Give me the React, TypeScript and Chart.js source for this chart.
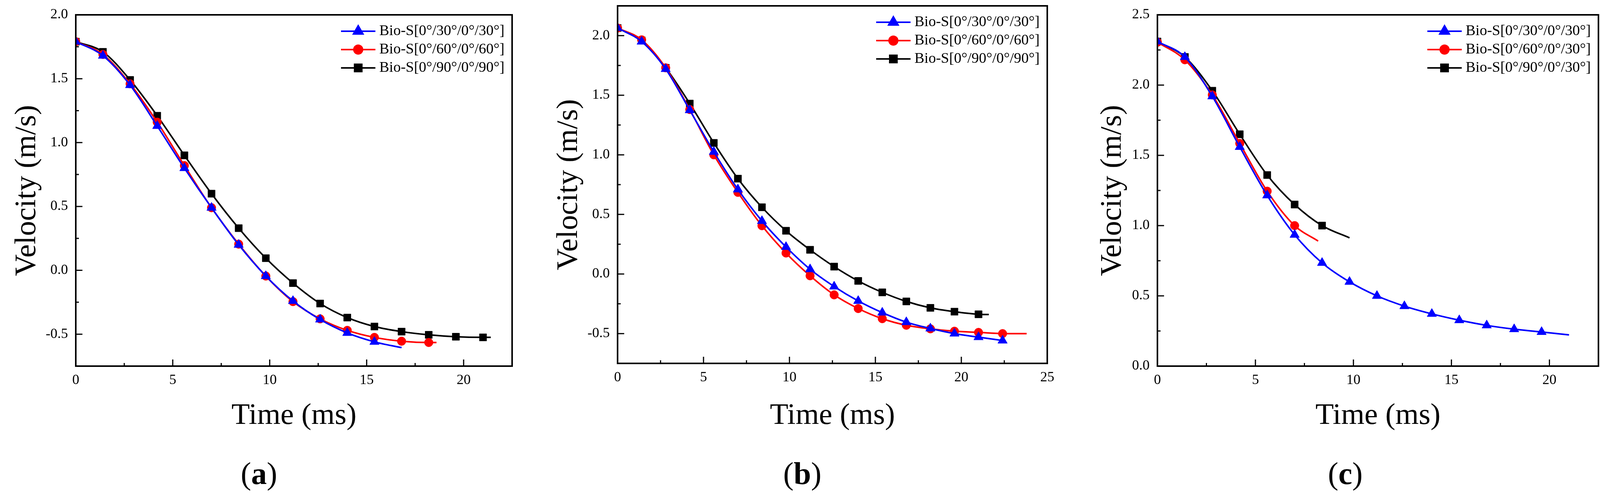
import { Chart, registerables } from "chart.js";
import { drawPoint } from "chart.js/helpers";
import { useEffect, useRef } from "react";

Chart.register(...registerables);

const FONT = "'Liberation Serif', 'Times New Roman', serif";

// (a) Bio-S[0/x/0/x]
const aBlueT = [0, 1.4, 2.8, 4.2, 5.6, 7.0, 8.4, 9.8, 11.2, 12.6, 14.0, 15.4, 16.8];
const aBlueV = [1.79, 1.68, 1.45, 1.13, 0.8, 0.49, 0.2, -0.045, -0.24, -0.385, -0.49, -0.56, -0.605];
const aRedT = [0, 1.4, 2.8, 4.2, 5.6, 7.0, 8.4, 9.8, 11.2, 12.6, 14.0, 15.4, 16.8, 18.2, 18.6];
const aRedV = [1.79, 1.69, 1.46, 1.16, 0.82, 0.49, 0.205, -0.045, -0.245, -0.38, -0.47, -0.525, -0.555, -0.565, -0.565];
const aBlackT = [0, 1.4, 2.8, 4.2, 5.6, 7.0, 8.4, 9.8, 11.2, 12.6, 14.0, 15.4, 16.8, 18.2, 19.6, 21.0, 21.4];
const aBlackV = [1.79, 1.71, 1.49, 1.21, 0.9, 0.6, 0.33, 0.095, -0.1, -0.26, -0.37, -0.44, -0.48, -0.505, -0.52, -0.525, -0.525];

// (b)
const bBlueT = [0, 1.4, 2.8, 4.2, 5.6, 7.0, 8.4, 9.8, 11.2, 12.6, 14.0, 15.4, 16.8, 18.2, 19.6, 21.0, 22.4];
const bBlueV = [2.064, 1.95, 1.72, 1.375, 1.025, 0.71, 0.445, 0.227, 0.04, -0.105, -0.226, -0.324, -0.404, -0.457, -0.5, -0.53, -0.558];
const bRedT = [0, 1.4, 2.8, 4.2, 5.6, 7.0, 8.4, 9.8, 11.2, 12.6, 14.0, 15.4, 16.8, 18.2, 19.6, 21.0, 22.4, 23.8];
const bRedV = [2.064, 1.965, 1.73, 1.38, 1.0, 0.685, 0.405, 0.176, -0.015, -0.175, -0.29, -0.375, -0.43, -0.46, -0.48, -0.49, -0.5, -0.5];
const bBlackT = [0, 1.4, 2.8, 4.2, 5.6, 7.0, 8.4, 9.8, 11.2, 12.6, 14.0, 15.4, 16.8, 18.2, 19.6, 21.0, 21.6];
const bBlackV = [2.064, 1.96, 1.73, 1.43, 1.1, 0.8, 0.56, 0.363, 0.203, 0.062, -0.058, -0.154, -0.23, -0.284, -0.316, -0.338, -0.34];

// (c)
const cBlueT = [0, 1.4, 2.8, 4.2, 5.6, 7.0, 8.4, 9.8, 11.2, 12.6, 14.0, 15.4, 16.8, 18.2, 19.6, 21.0];
const cBlueV = [2.31, 2.2, 1.92, 1.56, 1.215, 0.935, 0.735, 0.6, 0.5, 0.427, 0.372, 0.327, 0.29, 0.263, 0.243, 0.222];
const cRedT = [0, 1.4, 2.8, 4.2, 5.6, 7.0, 8.2];
const cRedV = [2.305, 2.18, 1.93, 1.585, 1.245, 1.0, 0.89];
const cBlackT = [0, 1.4, 2.8, 4.2, 5.6, 7.0, 8.4, 9.8];
const cBlackV = [2.31, 2.2, 1.96, 1.65, 1.36, 1.15, 1.0, 0.913];

const labelsAB = ["Bio-S[0°/30°/0°/30°]", "Bio-S[0°/60°/0°/60°]", "Bio-S[0°/90°/0°/90°]"];
const labelsC = ["Bio-S[0°/30°/0°/30°]", "Bio-S[0°/60°/0°/30°]", "Bio-S[0°/90°/0°/30°]"];

const styles = [
  { color: "#0000ff", point: "triangle", r: 14 },
  { color: "#ff0000", point: "circle", r: 11 },
  { color: "#000000", point: "rect", r: 13 },
];

// major ticks on multiples of step inside [min, max]
const stepTicks = (step: number) => (s: any) => {
  const out: any[] = [];
  for (let k = Math.ceil(s.min / step - 1e-9); k * step <= s.max + 1e-9; k++) {
    out.push({ value: Math.round(k * step * 1000) / 1000 });
  }
  s.ticks = out;
};

function Panel({ left, width, height, area, yMin, yMax, xMax, series, labels, yTitleX, tag, tagX }: any) {
  const canvasEl: any = useRef(null);

  useEffect(() => {
    const ctx = canvasEl.current.getContext("2d");

    const frame = {
      id: "frame",
      afterDraw(chart: any) {
        const c = chart.ctx;
        const a = chart.chartArea;
        const x = chart.scales.x;
        const y = chart.scales.y;
        c.save();
        c.strokeStyle = "#000";
        c.lineWidth = 4;
        c.strokeRect(a.left, a.top, a.right - a.left, a.bottom - a.top);

        // inward ticks, major + minor halfway
        c.lineWidth = 3;
        const ticksOf = (s: any) => {
          const vals = s.ticks.map((t: any) => t.value);
          const step = vals[1] - vals[0];
          const out: any[] = vals.map((v: number) => [v, 17]);
          for (let v = vals[0] - step / 2; v < s.max; v += step) {
            if (v > s.min) out.push([v, 8]);
          }
          return out;
        };
        c.beginPath();
        ticksOf(x).forEach(([v, len]: any) => {
          const px = x.getPixelForValue(v);
          c.moveTo(px, a.bottom);
          c.lineTo(px, a.bottom - len);
        });
        ticksOf(y).forEach(([v, len]: any) => {
          const py = y.getPixelForValue(v);
          c.moveTo(a.left, py);
          c.lineTo(a.left + len, py);
        });
        c.stroke();

        // legend: line with marker, then label
        c.font = `38px ${FONT}`;
        c.textBaseline = "middle";
        c.textAlign = "left";
        labels.forEach((text: string, i: number) => {
          const st = styles[i];
          const ly = a.top + 42 + i * 47;
          c.strokeStyle = st.color;
          c.fillStyle = st.color;
          c.lineWidth = 4;
          c.beginPath();
          c.moveTo(a.right - 438, ly);
          c.lineTo(a.right - 350, ly);
          c.stroke();
          drawPoint(c, { pointStyle: st.point, radius: st.r, rotation: 0, borderWidth: 1 } as any, a.right - 394, ly);
          c.fillStyle = "#000";
          c.fillText(text, a.right - 340, ly);
        });
        c.restore();
      },
    };

    const tickFont = { family: FONT, size: 36, lineHeight: 1 };
    const titleFont = { family: FONT, size: 77, lineHeight: 1 };

    const chart = new Chart(ctx, {
      type: "line",
      data: {
        datasets: series.map((s: any, i: number) => ({
          label: labels[i],
          data: s.t.map((t: number, k: number) => ({ x: t, y: s.v[k] })),
          borderColor: styles[i].color,
          backgroundColor: styles[i].color,
          borderWidth: 4,
          pointStyle: styles[i].point,
          pointRadius: (c: any) => (c.dataIndex < s.marks ? styles[i].r : 0),
          pointBorderWidth: 1,
          cubicInterpolationMode: "monotone",
          fill: false,
        })),
      },
      options: {
        animation: false,
        responsive: false,
        devicePixelRatio: 1,
        layout: { padding: { left: 0, top: area.top, right: width - area.right, bottom: 0 } },
        plugins: { legend: { display: false }, tooltip: { enabled: false } },
        scales: {
          x: {
            type: "linear",
            min: 0,
            max: xMax,
            grid: { display: false, drawTicks: false },
            border: { display: false },
            afterBuildTicks: stepTicks(5),
            ticks: {
              autoSkip: false,
              maxRotation: 0,
              padding: 19,
              color: "#000",
              font: tickFont,
              callback: (v: any) => Number(v).toFixed(0),
            },
            title: { display: true, text: "Time (ms)", color: "#000", font: titleFont, padding: { top: 0, bottom: 36 } },
            afterFit: (s: any) => {
              s.height = height - area.bottom;
              s.paddingLeft = 0;
              s.paddingRight = 0;
            },
          },
          y: {
            type: "linear",
            min: yMin,
            max: yMax,
            grid: { display: false, drawTicks: false },
            border: { display: false },
            afterBuildTicks: stepTicks(0.5),
            ticks: {
              autoSkip: false,
              padding: 20,
              color: "#000",
              font: tickFont,
              callback: (v: any) => Number(v).toFixed(1),
            },
            title: { display: true, text: "Velocity (m/s)", color: "#000", font: titleFont, padding: { top: yTitleX - 38.5, bottom: 0 } },
            afterFit: (s: any) => {
              s.width = area.left;
              s.paddingTop = 0;
              s.paddingBottom = 0;
            },
          },
        },
      },
      plugins: [frame],
    } as any);

    return () => {
      chart.destroy();
    };
  }, []);

  return (
    <>
      <canvas
        ref={canvasEl}
        width={width}
        height={height}
        style={{ position: "absolute", left, top: 0, width, height }}
      />
      <div
        style={{
          position: "absolute",
          left: left + tagX,
          top: 1213,
          transform: "translate(-50%, -50%)",
          fontFamily: FONT,
          fontSize: 80,
          lineHeight: 1,
          color: "#000",
          whiteSpace: "nowrap",
        }}
      >
        (<b>{tag}</b>)
      </div>
    </>
  );
}

export default function App() {
  useEffect(() => {
    document.body.style.margin = "0";
  }, []);

  const seriesA = [
    { t: aBlueT, v: aBlueV, marks: 12 },
    { t: aRedT, v: aRedV, marks: 14 },
    { t: aBlackT, v: aBlackV, marks: 16 },
  ];
  const seriesB = [
    { t: bBlueT, v: bBlueV, marks: 17 },
    { t: bRedT, v: bRedV, marks: 17 },
    { t: bBlackT, v: bBlackV, marks: 16 },
  ];
  const seriesC = [
    { t: cBlueT, v: cBlueV, marks: 15 },
    { t: cRedT, v: cRedV, marks: 6 },
    { t: cBlackT, v: cBlackV, marks: 7 },
  ];

  return (
    <div style={{ position: "relative", width: 4111, height: 1281, background: "#fff", overflow: "hidden" }}>
      <Panel
        left={0}
        width={1370}
        height={1140}
        area={{ left: 194, right: 1311, top: 38, bottom: 938 }}
        yMin={-0.75}
        yMax={2.0}
        xMax={22.5}
        series={seriesA}
        labels={labelsAB}
        yTitleX={70}
        tag="a"
        tagX={663}
      />
      <Panel
        left={1370}
        width={1370}
        height={1140}
        area={{ left: 211, right: 1311, top: 15, bottom: 931 }}
        yMin={-0.75}
        yMax={2.25}
        xMax={25}
        series={seriesB}
        labels={labelsAB}
        yTitleX={87}
        tag="b"
        tagX={684}
      />
      <Panel
        left={2740}
        width={1371}
        height={1140}
        area={{ left: 223, right: 1352, top: 38, bottom: 938 }}
        yMin={0}
        yMax={2.5}
        xMax={22.5}
        series={seriesC}
        labels={labelsC}
        yTitleX={109}
        tag="c"
        tagX={704}
      />
    </div>
  );
}
